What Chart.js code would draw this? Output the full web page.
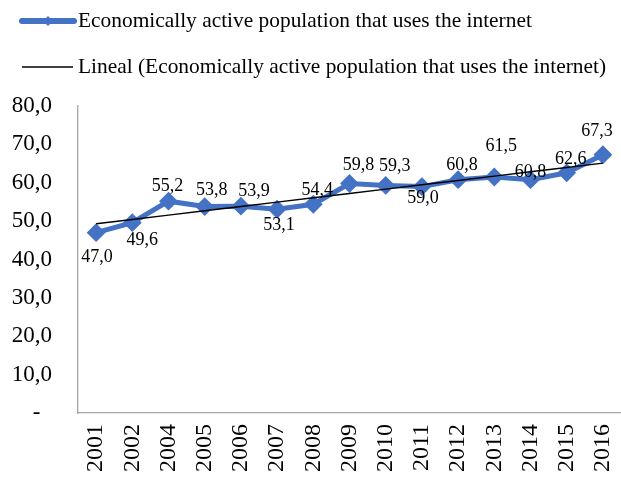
<!DOCTYPE html>
<html>
<head>
<meta charset="utf-8">
<script src="https://cdn.jsdelivr.net/npm/chart.js@4.4.1/dist/chart.umd.min.js"></script>
<style>
  html, body { margin: 0; padding: 0; background: #fff; }
  #wrap { width: 621px; height: 485px; position: relative; }
</style>
</head>
<body>
<div id="wrap"><canvas id="grafico"></canvas></div>
<script>
// datos
const anios = ['2001', '2002', '2004', '2005', '2006', '2007', '2008', '2009', '2010', '2011', '2012', '2013', '2014', '2015', '2016'];
const poblacion = [47.0, 49.6, 55.2, 53.8, 53.9, 53.1, 54.4, 59.8, 59.3, 59.0, 60.8, 61.5, 60.8, 62.6, 67.3];
const nombreSerie = 'Economically active population that uses the internet';
const nombreTendencia = 'Lineal (Economically active population that uses the internet)';
const ticksY = [0, 10, 20, 30, 40, 50, 60, 70, 80];

// linea de tendencia (minimos cuadrados sobre el indice, como hace Excel)
function tendenciaLineal(ys) {
    const n = ys.length;
    const mx = (n - 1) / 2;
    const my = ys.reduce((a, b) => a + b, 0) / n;
    let sxy = 0, sxx = 0;
    ys.forEach((y, i) => { sxy += (i - mx) * (y - my); sxx += (i - mx) * (i - mx); });
    const m = sxy / sxx;
    return ys.map((_, i) => my + m * (i - mx));
}
const tendencia = tendenciaLineal(poblacion);

const AZUL = '#4472C4';
const FUENTE = "'Liberation Serif', 'Times New Roman', serif";

// donde va cada etiqueta respecto a su punto [dx, dy]
const offsetsEtiquetas = [
    [1, 25], [10, 18], [-1, -15], [7, -16], [13, -15], [2, 16], [4, -14], [9, -18],
    [9, -19], [1, 12], [4, -14], [7, -31], [0, -7], [4, -14], [-6, -23]
];

const fmt = v => v.toFixed(1).replace('.', ',');

// etiquetas de datos
const pluginEtiquetas = {
    id: 'etiquetas',
    afterDatasetsDraw(chart) {
        const meta = chart.getDatasetMeta(0);
        const ctx = chart.ctx;
        ctx.save();
        ctx.font = '18px ' + FUENTE;
        ctx.fillStyle = '#000';
        ctx.textAlign = 'center';
        ctx.textBaseline = 'middle';
        meta.data.forEach((p, i) => {
            const o = offsetsEtiquetas[i];
            ctx.fillText(fmt(poblacion[i]), p.x + o[0], p.y + o[1]);
        });
        ctx.restore();
    }
};

// leyenda a mano (dos filas, alineada a la izquierda)
const pluginLeyenda = {
    id: 'leyendaManual',
    afterDraw(chart) {
        const ctx = chart.ctx;
        ctx.save();
        ctx.font = '21.4px ' + FUENTE;
        ctx.fillStyle = '#000';
        ctx.textBaseline = 'middle';
        ctx.textAlign = 'left';

        // serie azul
        ctx.strokeStyle = AZUL;
        ctx.lineWidth = 6;
        ctx.lineCap = 'round';
        ctx.beginPath(); ctx.moveTo(22, 21); ctx.lineTo(74, 21); ctx.stroke();
        ctx.fillStyle = AZUL;
        ctx.beginPath();
        ctx.moveTo(48, 16); ctx.lineTo(53, 21); ctx.lineTo(48, 26); ctx.lineTo(43, 21);
        ctx.closePath(); ctx.fill();
        ctx.fillStyle = '#000';
        ctx.fillText(chart.data.datasets[0].label, 78, 21);

        // tendencia
        ctx.strokeStyle = '#000';
        ctx.lineWidth = 1.3;
        ctx.lineCap = 'butt';
        ctx.beginPath(); ctx.moveTo(22, 67); ctx.lineTo(73, 67); ctx.stroke();
        ctx.fillText(chart.data.datasets[1].label, 78, 67);
        ctx.restore();
    }
};

const ctx = document.getElementById('grafico').getContext('2d');
new Chart(ctx, {
    type: 'line',
    data: {
        labels: anios,
        datasets: [
            {
                label: nombreSerie,
                data: poblacion,
                borderColor: AZUL,
                backgroundColor: AZUL,
                borderWidth: 5,
                pointStyle: 'rectRot',
                pointRadius: 8,
                pointBorderWidth: 2,
                tension: 0,
                order: 2
            },
            {
                label: nombreTendencia,
                data: tendencia,
                borderColor: '#000',
                borderWidth: 1.4,
                pointRadius: 0,
                tension: 0,
                order: 1
            }
        ]
    },
    options: {
        responsive: true,
        maintainAspectRatio: false,
        animation: false,
        layout: { autoPadding: false, padding: { top: 106, right: 0, bottom: 0, left: 0 } },
        plugins: {
            legend: { display: false },
            tooltip: { enabled: false }
        },
        scales: {
            x: {
                offset: true,
                grid: { display: false, drawTicks: false },
                border: { display: true, color: '#a6a6a6', width: 1.3 },
                ticks: {
                    minRotation: 90,
                    maxRotation: 90,
                    padding: 11,
                    color: '#000',
                    font: { family: FUENTE, size: 24 }
                },
                afterFit: s => { s.height = 72; s.paddingLeft = 0; s.paddingRight = 0; }
            },
            y: {
                min: 0,
                max: 80,
                afterBuildTicks: s => { s.ticks = ticksY.map(v => ({ value: v })); },
                grid: { display: false, drawTicks: false },
                border: { display: true, color: '#a6a6a6', width: 1.3 },
                ticks: {
                    padding: 26,
                    color: '#000',
                    font: { family: FUENTE, size: 23 },
                    callback: v => v === 0 ? '-  ' : fmt(v)
                },
                afterFit: s => { s.width = 78; }
            }
        }
    },
    plugins: [pluginEtiquetas, pluginLeyenda]
});
</script>
</body>
</html>
